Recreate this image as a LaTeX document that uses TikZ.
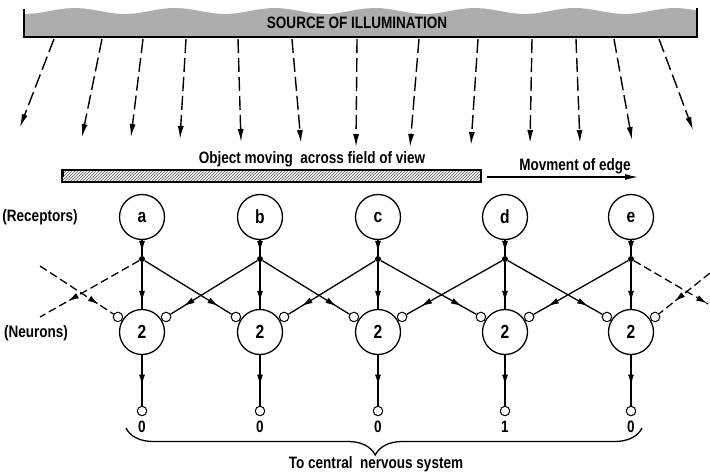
\documentclass[tikz,border=0pt]{standalone}
\usepackage{fontspec}
\setmainfont{Liberation Sans}[FakeStretch=0.82]
\usetikzlibrary{arrows.meta,decorations.markings,decorations.pathreplacing,patterns}

\begin{document}
\begin{tikzpicture}[
  x=1pt,
  y=-1pt,
  font=\fontsize{16.5}{19}\selectfont\bfseries,
  cell/.style={circle,draw=black,line width=1.3pt,minimum size=45pt,inner sep=0pt,font=\fontsize{19}{21}\selectfont\bfseries},
  junction/.style={circle,fill=black,inner sep=0pt,minimum size=6pt},
  synapse/.style={circle,draw=black,fill=white,line width=1pt,inner sep=0pt,minimum size=9.5pt},
  ray/.style={draw=black,line width=1.4pt,dash pattern=on 14pt off 5pt,-{Latex[length=13pt,width=6pt]}},
  fibre/.style={draw=black,line width=1.3pt},
  feed/.style={draw=black,line width=1.3pt,dash pattern=on 8pt off 4pt},
  tipat/.style={postaction={decorate},decoration={markings,mark=at position #1 with {\arrow{Latex[length=11pt,width=6pt]}}}}
]
  \useasboundingbox (0,0) rectangle (710,474);

  % source of illumination
  \fill[black!32] (24,37) -- plot[domain=24:697,samples=80] (\x,{11+3*sin(3.6*\x)}) -- (697,37) -- cycle;
  \draw[line width=1.8pt] (24,9) -- (24,37) -- (697,37) -- (697,8);
  \node (source) at (357,23) {SOURCE OF ILLUMINATION};

  \draw[ray] (54,39) -- (20,127);
  \draw[ray] (102,39) -- (82,137);
  \draw[ray] (143,39) -- (131,137);
  \draw[ray] (186,39) -- (180,139);
  \draw[ray] (238,39) -- (241,142);
  \draw[ray] (292,39) -- (301,143);
  \draw[ray] (357,39) -- (356,147);
  \draw[ray] (419,39) -- (410,147);
  \draw[ray] (478,39) -- (471,145);
  \draw[ray] (532,39) -- (530,143);
  \draw[ray] (576,39) -- (580,143);
  \draw[ray] (614,39) -- (632,140);
  \draw[ray] (659,39) -- (693,130);

  % moving object
  \node (object) at (312,159) {Object moving\ \ across field of view};
  \draw[line width=1.3pt,pattern=north east lines,pattern color=black!70] (62,170) rectangle (481,182);
  \draw[line width=2.6pt] (63,169) -- (63,177);
  \node (edge) at (575,166) {Movment of edge};
  \coordinate (edge-from) at (487,177);
  \coordinate (edge-to) at (638,177);
  \draw[line width=1.3pt,-{Latex[length=13pt,width=6pt]}] (edge-from) -- (edge-to);

  \node (receptors) at (40,217) {(Receptors)};
  \node (neurons) at (36,333) {(Neurons)};

  % receptors
  \node[cell] (rec-a) at (142,217) {a};
  \node[cell] (rec-b) at (260,217) {b};
  \node[cell] (rec-c) at (378,217) {c};
  \node[cell] (rec-d) at (505,217) {d};
  \node[cell] (rec-e) at (631,217) {e};

  \node[junction] (jn-a) at (142,259) {};
  \node[junction] (jn-b) at (260,259) {};
  \node[junction] (jn-c) at (378,259) {};
  \node[junction] (jn-d) at (505,259) {};
  \node[junction] (jn-e) at (631,259) {};

  % neurons
  \node[cell] (neu-a) at (142,332) {2};
  \node[cell] (neu-b) at (260,332) {2};
  \node[cell] (neu-c) at (378,332) {2};
  \node[cell] (neu-d) at (505,332) {2};
  \node[cell] (neu-e) at (631,332) {2};

  \node[synapse,anchor=-32] (inl-a) at (neu-a.148) {};
  \node[synapse,anchor=212] (inr-a) at (neu-a.32) {};
  \node[synapse,anchor=-32] (inl-b) at (neu-b.148) {};
  \node[synapse,anchor=212] (inr-b) at (neu-b.32) {};
  \node[synapse,anchor=-32] (inl-c) at (neu-c.148) {};
  \node[synapse,anchor=212] (inr-c) at (neu-c.32) {};
  \node[synapse,anchor=-32] (inl-d) at (neu-d.148) {};
  \node[synapse,anchor=212] (inr-d) at (neu-d.32) {};
  \node[synapse,anchor=-32] (inl-e) at (neu-e.148) {};
  \node[synapse,anchor=212] (inr-e) at (neu-e.32) {};

  % outputs
  \node[synapse] (out-a) at (142,411) {};
  \node[synapse] (out-b) at (260,411) {};
  \node[synapse] (out-c) at (378,411) {};
  \node[synapse] (out-d) at (505,411) {};
  \node[synapse] (out-e) at (631,411) {};
  \node (val-a) at (142,427) {0};
  \node (val-b) at (260,427) {0};
  \node (val-c) at (378,427) {0};
  \node (val-d) at (505,427) {1};
  \node (val-e) at (631,427) {0};

  \draw[fibre,tipat=0.75] (rec-a) -- (jn-a);
  \draw[fibre,tipat=0.75] (rec-b) -- (jn-b);
  \draw[fibre,tipat=0.75] (rec-c) -- (jn-c);
  \draw[fibre,tipat=0.75] (rec-d) -- (jn-d);
  \draw[fibre,tipat=0.75] (rec-e) -- (jn-e);

  \draw[fibre,tipat=0.85] (jn-a) -- (neu-a);
  \draw[fibre,tipat=0.85] (jn-b) -- (neu-b);
  \draw[fibre,tipat=0.85] (jn-c) -- (neu-c);
  \draw[fibre,tipat=0.85] (jn-d) -- (neu-d);
  \draw[fibre,tipat=0.85] (jn-e) -- (neu-e);

  \draw[fibre,tipat=0.85] (jn-a) -- (inl-b);
  \draw[fibre,tipat=0.85] (jn-b) -- (inl-c);
  \draw[fibre,tipat=0.85] (jn-c) -- (inl-d);
  \draw[fibre,tipat=0.85] (jn-d) -- (inl-e);
  \draw[fibre,tipat=0.85] (jn-b) -- (inr-a);
  \draw[fibre,tipat=0.85] (jn-c) -- (inr-b);
  \draw[fibre,tipat=0.85] (jn-d) -- (inr-c);
  \draw[fibre,tipat=0.85] (jn-e) -- (inr-d);

  \draw[fibre,tipat=0.6] (neu-a) -- (out-a);
  \draw[fibre,tipat=0.6] (neu-b) -- (out-b);
  \draw[fibre,tipat=0.6] (neu-c) -- (out-c);
  \draw[fibre,tipat=0.6] (neu-d) -- (out-d);
  \draw[fibre,tipat=0.6] (neu-e) -- (out-e);

  % lateral inputs from outside the field
  \coordinate (feed-l1) at (40,317);
  \coordinate (feed-l2) at (40,266);
  \coordinate (feed-r1) at (708,304);
  \coordinate (feed-r2) at (710,273);
  \draw[feed,tipat=0.72] (jn-a) -- (feed-l1);
  \draw[feed,tipat=0.8] (feed-l2) -- (inl-a);
  \draw[feed,tipat=0.99] (jn-e) -- (feed-r1);
  \draw[feed,tipat=0.7] (feed-r2) -- (inr-e);

  % to central nervous system
  \coordinate (brace-l) at (126,428);
  \coordinate (brace-r) at (642,428);
  \draw[line width=1.3pt,decorate,decoration={brace,mirror,amplitude=27pt,aspect=0.483}] (brace-l) -- (brace-r);
  \node (cns) at (376,464) {To central\ \ nervous system};
\end{tikzpicture}
\end{document}
